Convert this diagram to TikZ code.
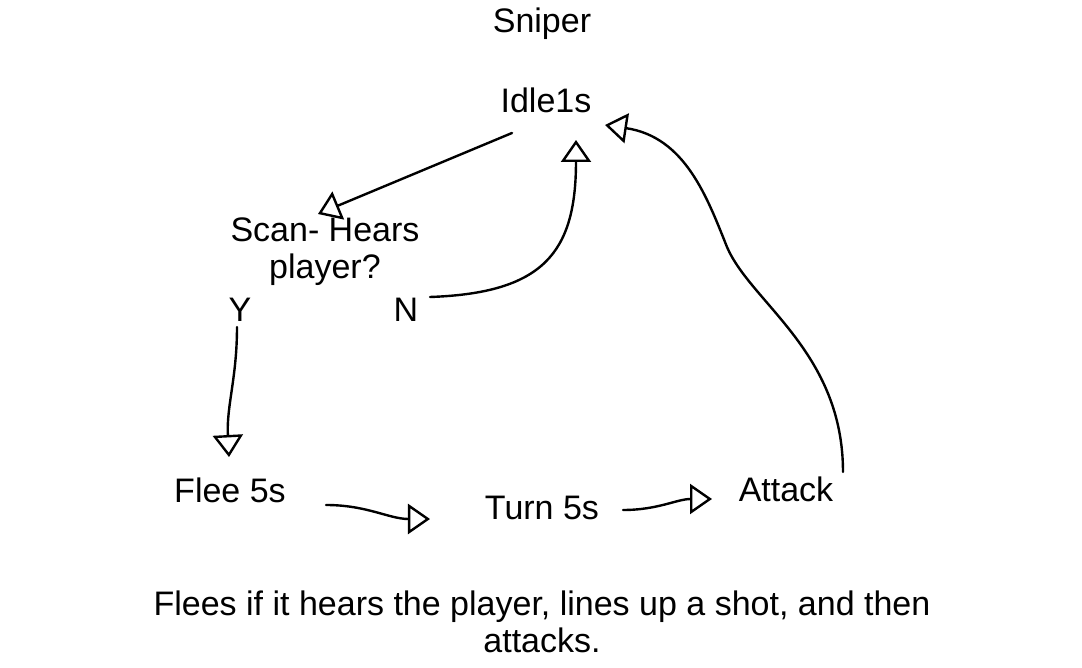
\documentclass[tikz,border=0pt]{standalone}
\usepackage{fontspec}
\setmainfont{Liberation Sans}
\usetikzlibrary{arrows.meta,positioning}

\begin{document}
\begin{tikzpicture}[
  on grid,
  ->, >={Triangle[open,length=11pt,width=15pt]},
  line width=1.2pt,line join=round,line cap=round,
  statetext/.style={inner sep=0pt,font=\fontsize{17pt}{18.5pt}\selectfont},
  every edge/.style={draw=black}
  ]

  \useasboundingbox (-271pt,12pt) rectangle (270pt,-322pt);

  \node[statetext] (sniper)                                          {Sniper};
  \node[statetext] (idle)   [below right=38pt and 2pt of sniper]     {Idle1s};
  \node[statetext,align=center] (scan) [below left=76pt and 110.5pt of idle]
    {Scan- Hears\\player?};
  \node[statetext] (yes)    [below left=29pt and 42.5pt of scan]     {Y};
  \node[statetext] (no)     [right=83pt of yes]                      {N};
  \node[statetext] (flee)   [below left=90pt and 5pt of yes]         {Flee 5s};
  \node[statetext] (turn)   [below right=9pt and 156pt of flee]      {Turn 5s};
  \node[statetext] (attack) [above right=9.5pt and 122pt of turn]    {Attack};
  \node[statetext,align=center] (note) [below=57pt of turn]
    {Flees if it hears the player, lines up a shot, and then\\attacks.};

  \path[->]
    ([shift={(-17pt,-16.5pt)}]idle.center) edge []
      ([shift={(-3.5pt,19pt)}]scan.center)
    ([shift={(12pt,6.5pt)}]no.center) edge [out=2,in=-90,looseness=1.35]
      ([shift={(15pt,-20pt)}]idle.center)
    ([shift={(-1.5pt,-8.5pt)}]yes.center) edge [out=-90,in=93]
      ([shift={(-0.5pt,16.5pt)}]flee.center)
    ([shift={(48pt,-7.5pt)}]flee.center) edge [out=0,in=180]
      ([shift={(-56pt,-5.5pt)}]turn.center)
    ([shift={(40.5pt,-1pt)}]turn.center) edge [out=0,in=180]
      ([shift={(-37pt,-5pt)}]attack.center)
    ;

  \draw[->] ([shift={(28.5pt,8.5pt)}]attack.center)
    .. controls +(0pt,60pt) and +(12pt,-28pt) .. ++(-58pt,112.5pt)
    .. controls +(-10pt,25pt) and +(40pt,-6pt) .. ([shift={(29.5pt,-12.5pt)}]idle.center);
\end{tikzpicture}
\end{document}
